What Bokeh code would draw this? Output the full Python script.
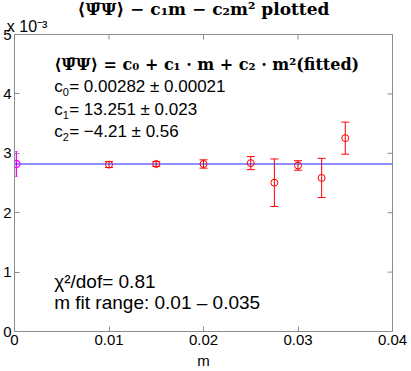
import math
from bokeh.plotting import figure
from bokeh.models import (ColumnDataSource, Whisker, TeeHead, FixedTicker,
                          CustomJSTickFormatter, LinearAxis, Range1d)
from bokeh.core.properties import value
from bokeh.embed import file_html
from bokeh.resources import INLINE

# ---- data ----
m_vals = [0.01, 0.015, 0.02, 0.025, 0.0275, 0.03, 0.0325, 0.035]
pbp_sub = [0.00281, 0.00282, 0.00282, 0.002835, 0.002505, 0.002795, 0.002585, 0.003255]
pbp_err = [0.00005, 0.00004, 0.00007, 0.00011, 0.00040, 0.00008, 0.00033, 0.00027]

extrap_m = [0.0002]
extrap_val = [0.00282]
extrap_err = [0.00021]

fit_m = [0.0, 0.04]
fit_c0 = 0.00282

x_ticks = [0.0, 0.01, 0.02, 0.03, 0.04]
y_ticks = [0.0, 0.001, 0.002, 0.003, 0.004, 0.005]
exponent_text = "x 10\u207b\u00b3"

title_text = "\u27e8\u03a8\u0304\u03a8\u27e9 \u2212 c\u2081m \u2212 c\u2082m\u00b2 plotted"
formula_text = "\u27e8\u03a8\u0304\u03a8\u27e9 = c\u2080 + c\u2081 \u00b7 m + c\u2082 \u00b7 m\u00b2(fitted)"
coef_sub = ["0", "1", "2"]
coef_rest = ["=  0.00282 \u00b1 0.00021",
             "=  13.251 \u00b1 0.023",
             "=  \u22124.21 \u00b1 0.56"]
coef_y = [0.00413, 0.00374, 0.00337]
chi_text = "\u03c7\u00b2/dof= 0.81"
range_text = "m fit range:  0.01 \u2013 0.035"
text_x = 0.0042

SANS = "Liberation Sans"
SERIF = "DejaVu Serif"
FRAME = "#8c8c8c"

p = figure(width=411, height=371, x_range=Range1d(0, 0.04), y_range=Range1d(0, 0.005),
           output_backend="svg", toolbar_location=None,
           min_border_left=13, min_border_right=19, min_border_top=32, min_border_bottom=0,
           title=title_text)
p.title.text_font = SERIF
p.title.text_font_style = "bold"
p.title.text_font_size = "17px"
p.title.text_color = "black"
p.title.align = "center"
p.title.standoff = -8
p.grid.visible = False
p.outline_line_color = FRAME
p.background_fill_color = "white"
p.border_fill_color = "white"

fmt_x = CustomJSTickFormatter(code="return String(Math.round(tick*1000)/1000);")
fmt_y = CustomJSTickFormatter(code="return String(Math.round(tick*1000));")

for ax, tk, fm in ((p.xaxis[0], x_ticks, fmt_x), (p.yaxis[0], y_ticks, fmt_y)):
    ax.ticker = FixedTicker(ticks=tk)
    ax.formatter = fm
    ax.major_tick_in = 5
    ax.major_tick_out = 0
    ax.minor_tick_line_color = None
    ax.axis_line_color = FRAME
    ax.major_tick_line_color = FRAME
    ax.major_label_text_font = SANS
    ax.major_label_text_font_size = "15px"
    ax.major_label_text_color = "black"
p.xaxis.major_label_standoff = 3
p.yaxis.major_label_standoff = 3
p.xaxis.axis_label = "m"
p.xaxis.axis_label_text_font = SANS
p.xaxis.axis_label_text_font_size = "15px"
p.xaxis.axis_label_text_font_style = "normal"
p.xaxis.axis_label_text_color = "black"
p.xaxis.axis_label_standoff = 4

# axis multiplier shown above the top-left corner
exp_axis = LinearAxis(ticker=FixedTicker(ticks=[x_ticks[0]]),
                      formatter=CustomJSTickFormatter(code="return '%s';" % exponent_text),
                      major_label_text_align="left", major_label_text_font=SANS,
                      major_label_text_font_size="16px", major_label_text_color="black",
                      major_label_standoff=0, major_tick_in=0, major_tick_out=0,
                      major_tick_line_color=None, minor_tick_line_color=None,
                      axis_line_color=None)
p.add_layout(exp_axis, "above")

# ticks on the top and right edges of the box
p.scatter(x_ticks, [0.005] * len(x_ticks), marker="dash", angle=math.pi / 2, size=10,
          line_color=FRAME, line_width=1)
p.scatter([0.04] * len(y_ticks), y_ticks, marker="dash", size=10,
          line_color=FRAME, line_width=1)

# fit line
p.line(fit_m, [fit_c0, fit_c0], line_color="#2020ff", line_width=1.2)

# data with error bars
lower = [v - e for v, e in zip(pbp_sub, pbp_err)]
upper = [v + e for v, e in zip(pbp_sub, pbp_err)]
src = ColumnDataSource(dict(m=m_vals, y=pbp_sub, lo=lower, hi=upper))
p.add_layout(Whisker(source=src, base="m", lower="lo", upper="hi",
                     line_color="red", line_width=1,
                     lower_head=TeeHead(size=8, line_color="red", line_width=1),
                     upper_head=TeeHead(size=8, line_color="red", line_width=1)))
p.scatter("m", "y", source=src, marker="circle", size=7, fill_color=None,
          line_color="red", line_width=1)

elo = [v - e for v, e in zip(extrap_val, extrap_err)]
ehi = [v + e for v, e in zip(extrap_val, extrap_err)]
esrc = ColumnDataSource(dict(m=extrap_m, y=extrap_val, lo=elo, hi=ehi))
p.add_layout(Whisker(source=esrc, base="m", lower="lo", upper="hi",
                     line_color="#ff00ff", line_width=1.3,
                     lower_head=TeeHead(size=2, line_color="#ff00ff"),
                     upper_head=TeeHead(size=2, line_color="#ff00ff")))
p.scatter("m", "y", source=esrc, marker="circle", size=7, fill_color=None,
          line_color="#ff00ff", line_width=1.3)

# text annotations
p.text(x=[text_x], y=[0.00450], text=[formula_text], text_font=value(SERIF),
       text_font_style="bold", text_font_size="16px", text_baseline="middle",
       text_color="black")
n = len(coef_y)
p.text(x=[text_x] * n, y=coef_y, text=["c"] * n, text_font=value(SANS),
       text_font_size="17px", text_baseline="middle", text_color="black")
p.text(x=[text_x] * n, y=coef_y, text=coef_sub, x_offset=8.5, y_offset=6,
       text_font=value(SANS), text_font_size="11px", text_baseline="middle",
       text_color="black")
p.text(x=[text_x] * n, y=coef_y, text=coef_rest, x_offset=15,
       text_font=value(SANS), text_font_size="17px", text_baseline="middle",
       text_color="black")
p.text(x=[text_x], y=[0.00084], text=[chi_text], text_font=value(SANS),
       text_font_size="19px", text_baseline="middle", text_color="black")
p.text(x=[text_x], y=[0.00049], text=[range_text], text_font=value(SANS),
       text_font_size="19px", text_baseline="middle", text_color="black")

open("out.html", "w").write(file_html(p, INLINE))
